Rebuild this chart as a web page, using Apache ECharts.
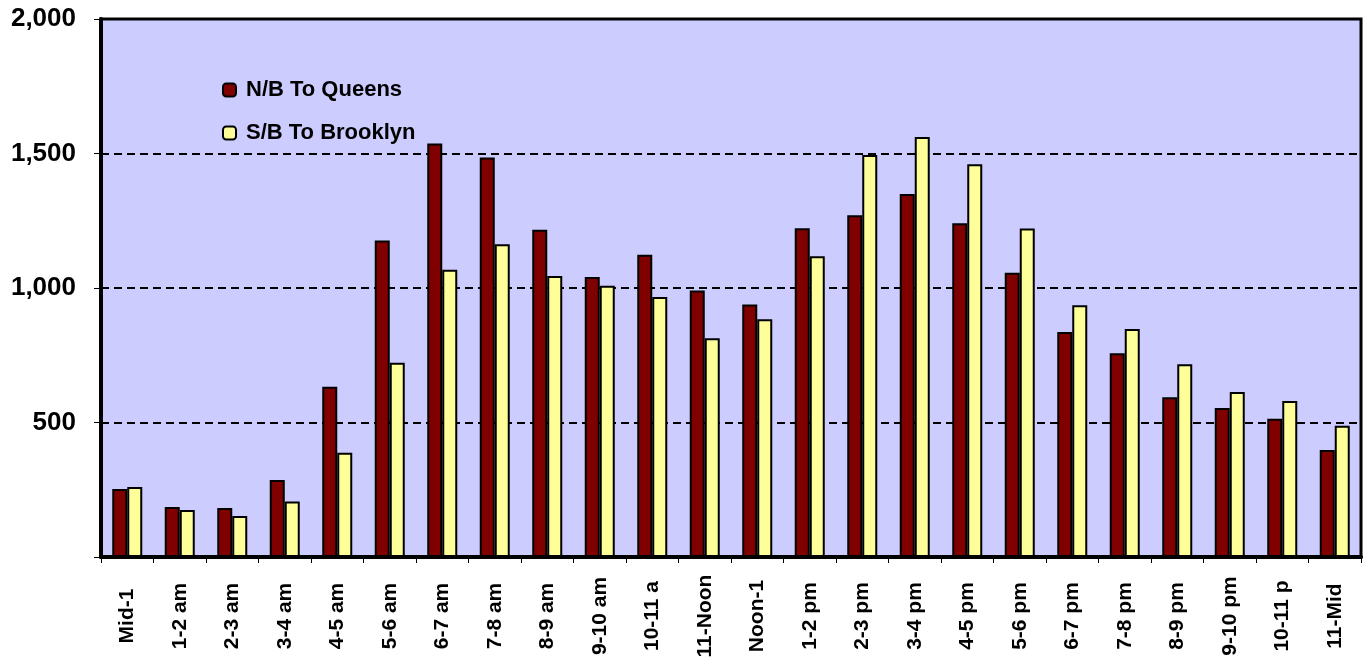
<!DOCTYPE html>
<html>
<head>
<meta charset="utf-8">
<script src="https://cdn.jsdelivr.net/npm/echarts@6/dist/echarts.min.js"></script>
<style>html,body{margin:0;padding:0;background:#fff;}#c{width:1364px;height:664px;}</style>
</head>
<body>
<div id="c"></div>
<script>
const categories = ['Mid-1','1-2 am','2-3 am','3-4 am','4-5 am','5-6 am','6-7 am','7-8 am','8-9 am','9-10 am','10-11 a','11-Noon','Noon-1','1-2 pm','2-3 pm','3-4 pm','4-5 pm','5-6 pm','6-7 pm','7-8 pm','8-9 pm','9-10 pm','10-11 p','11-Mid'];
const nbQueens = [253,186,182,286,633,1177,1537,1485,1217,1041,1124,991,939,1222,1270,1349,1241,1057,836,757,594,554,514,398];
const sbBrooklyn = [260,175,152,206,388,722,1068,1163,1045,1008,967,813,884,1118,1494,1561,1460,1221,936,848,717,613,580,488];
const seriesNames = ['N/B To Queens','S/B To Brooklyn'];
const yTicks = [0,500,1000,1500,2000];

const chart = echarts.init(document.getElementById('c'), null, {renderer:'canvas'});
const font = 'Liberation Sans, Arial, sans-serif';
chart.setOption({
  animation: false,
  backgroundColor: '#ffffff',
  grid: {left: 101, right: 3, top: 19, bottom: 107, show: true, backgroundColor: '#CCCCFF', borderColor: '#000', borderWidth: 3},
  legend: {
    orient: 'vertical', left: 222, top: 79, padding: 0, itemWidth: 13, itemHeight: 13, itemGap: 21,
    textStyle: {fontFamily: font, fontWeight: 'bold', fontSize: 22, color: '#000', lineHeight: 21, padding: [0,0,0,5]},
    data: seriesNames
  },
  xAxis: {
    type: 'category', data: categories,
    axisLine: {show: true, lineStyle: {color: '#000', width: 4}},
    axisTick: {show: true, length: 6, lineStyle: {color: '#000', width: 1}},
    axisLabel: {rotate: 90, margin: 59, interval: 0, align: 'center', verticalAlign: 'middle',
      fontFamily: font, fontWeight: 'bold', fontSize: 21, color: '#000'},
    splitLine: {show: false}
  },
  yAxis: {
    type: 'value', min: yTicks[0], max: yTicks[yTicks.length-1], interval: 500,
    axisLine: {show: true, lineStyle: {color: '#000', width: 4}},
    axisTick: {show: true, length: 7, lineStyle: {color: '#000', width: 1}},
    axisLabel: {margin: 25, fontFamily: font, fontWeight: 'bold', fontSize: 26, color: '#000',
      formatter: v => v === 0 ? '' : v.toLocaleString('en-US')},
    splitLine: {show: true, lineStyle: {color: '#000', width: 2, type: [8,5]}}
  },
  series: [
    {name: seriesNames[0], type: 'bar', data: nbQueens, barWidth: 15, barGap: '0%',
     itemStyle: {color: '#800000', borderColor: '#000', borderWidth: 2}},
    {name: seriesNames[1], type: 'bar', data: sbBrooklyn, barWidth: 15, barGap: '0%',
     itemStyle: {color: '#FFFF99', borderColor: '#000', borderWidth: 2}}
  ]
});
</script>
</body>
</html>
